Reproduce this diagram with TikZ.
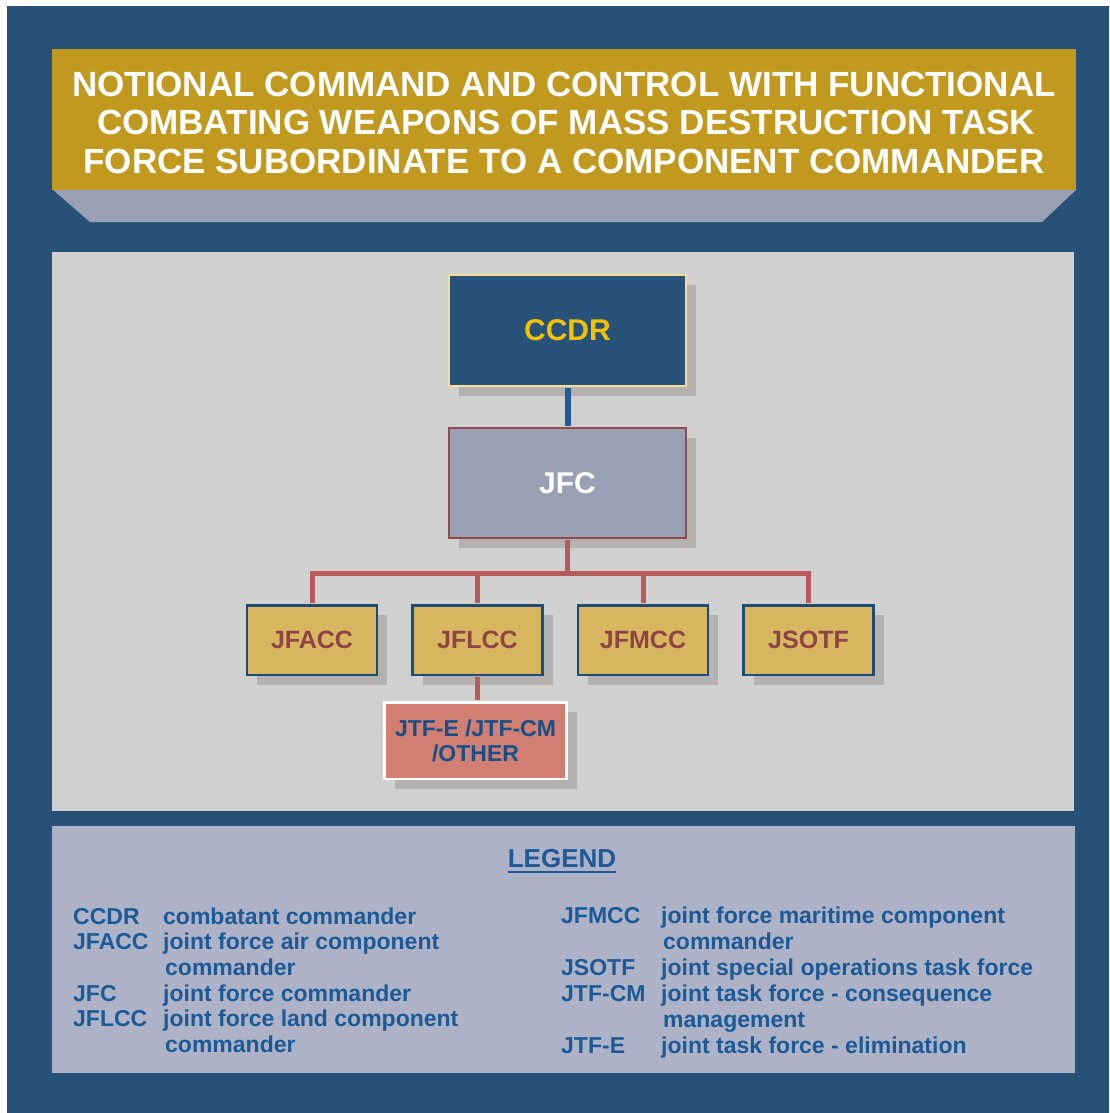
\documentclass[tikz,border=0pt]{standalone}
\usepackage{fontspec}
\setmainfont{Liberation Sans}
\definecolor{outerblue}{HTML}{285177}
\definecolor{gold}{HTML}{C1991F}
\definecolor{slate}{HTML}{98A0B3}
\definecolor{panelgrey}{HTML}{D0D0D0}
\definecolor{legendbg}{HTML}{ADB2C7}
\definecolor{ccdrfill}{HTML}{28527A}
\definecolor{ccdrborder}{HTML}{F8DC98}
\definecolor{ccdrtext}{HTML}{F2C200}
\definecolor{shadowc}{HTML}{B3B2B0}
\definecolor{jfcborder}{HTML}{944848}
\definecolor{redline}{HTML}{B85A5A}
\definecolor{blueline}{HTML}{1F5A96}
\definecolor{smallfill}{HTML}{D8B660}
\definecolor{smallborder}{HTML}{1E4C78}
\definecolor{smalltext}{HTML}{8E4444}
\definecolor{jtffill}{HTML}{D07F72}
\definecolor{jtftext}{HTML}{174F88}
\definecolor{legtext}{HTML}{1B5A96}
\tikzset{
  shbox/.style={draw, inner sep=0pt, align=center,
    preaction={fill=shadowc, transform canvas={shift={(10pt,-10pt)}}}},
  topbox/.style={shbox, line width=2pt, fill=ccdrfill, draw=ccdrborder, text=ccdrtext,
    minimum width=237pt, minimum height=111pt, font=\bfseries\fontsize{30}{33}\selectfont},
  jfcbox/.style={shbox, line width=2.5pt, fill=slate, draw=jfcborder, text=white,
    minimum width=237pt, minimum height=110pt, font=\bfseries\fontsize{30}{33}\selectfont},
  compbox/.style={shbox, line width=2.5pt, fill=smallfill, draw=smallborder, text=smalltext,
    minimum width=130pt, minimum height=69.5pt, font=\bfseries\fontsize{25}{28}\selectfont},
  jtfbox/.style={shbox, line width=2.5pt, fill=jtffill, draw=white, text=jtftext,
    minimum width=182pt, minimum height=76.5pt, font=\bfseries\fontsize{23}{25}\selectfont},
  redconn/.style={draw=redline, line width=5pt, shorten <=1pt, shorten >=1pt},
  blueconn/.style={draw=blueline, line width=6pt, shorten <=1pt, shorten >=1pt},
  titletext/.style={anchor=base, text=white, inner sep=0pt, font=\bfseries\fontsize{35}{38}\selectfont},
  legtxt/.style={anchor=base west, text=legtext, inner sep=0pt, font=\bfseries\fontsize{23}{26}\selectfont},
}
\begin{document}
\begin{tikzpicture}[x=1pt,y=-1pt]
\useasboundingbox (0,0) rectangle (1109,1113);
\fill[white] (0,0) rectangle (1109,1113);
\fill[outerblue] (7,6) rectangle (1109,1113);
% title banner
\fill[slate] (52,189) -- (1077,189) -- (1042,222) -- (90,222) -- cycle;
\fill[gold] (52,49) rectangle (1076,190);
\node[titletext] (t1) at (564,97) {NOTIONAL COMMAND AND CONTROL WITH FUNCTIONAL};
\node[titletext] (t2) at (566,135) {COMBATING WEAPONS OF MASS DESTRUCTION TASK};
\node[titletext] (t3) at (564,173) {FORCE SUBORDINATE TO A COMPONENT COMMANDER};
% panels
\fill[panelgrey] (52,252) rectangle (1074,811);
\fill[legendbg] (52,826) rectangle (1075,1073);
% boxes
\node[topbox] (ccdr) at (567.5,330.5) {CCDR};
\node[jfcbox] (jfc) at (567.5,483) {JFC};
\node[compbox] (jfacc) at (312,640) {JFACC};
\node[compbox] (jflcc) at (477.5,640) {JFLCC};
\node[compbox] (jfmcc) at (643,640) {JFMCC};
\node[compbox] (jsotf) at (808.5,640) {JSOTF};
\node[jtfbox] (jtf) at (475.5,740.5) {JTF-E /JTF-CM\\/OTHER};
% connectors
\coordinate (bus) at (567.5,573);
\draw[blueconn] (ccdr.south) -- (jfc.north);
\draw[redconn] (jfc.south) -- (bus);
\draw[redconn, line join=miter] (jfacc.north) -- (jfacc.north |- bus) -- (jsotf.north |- bus) -- (jsotf.north);
\draw[redconn] (jflcc.north) -- (jflcc.north |- bus);
\draw[redconn] (jfmcc.north) -- (jfmcc.north |- bus);
\draw[redconn] (jflcc.south) -- (jflcc.south |- jtf.north);
% legend
\node[legtxt, anchor=base, font=\bfseries\fontsize{26}{28}\selectfont] (leg) at (562,867) {LEGEND};
\draw[legtext, line width=2.2pt] ([yshift=-5pt]leg.base west) -- ([yshift=-5pt]leg.base east);
\node[legtxt] (a1) at (73,924) {CCDR};
\node[legtxt] (d1) at (163,924) {combatant commander};
\node[legtxt] (a2) at (73,949.5) {JFACC};
\node[legtxt] (d2) at (163,949.5) {joint force air component};
\node[legtxt] (d2b) at (165,975) {commander};
\node[legtxt] (a3) at (73,1001) {JFC};
\node[legtxt] (d3) at (163,1001) {joint force commander};
\node[legtxt] (a4) at (73,1026.5) {JFLCC};
\node[legtxt] (d4) at (163,1026.5) {joint force land component};
\node[legtxt] (d4b) at (165,1052) {commander};
\node[legtxt] (a5) at (561,923.5) {JFMCC};
\node[legtxt] (d5) at (661,923.5) {joint force maritime component};
\node[legtxt] (d5b) at (663,949.5) {commander};
\node[legtxt] (a6) at (561,975.5) {JSOTF};
\node[legtxt] (d6) at (661,975.5) {joint special operations task force};
\node[legtxt] (a7) at (561,1001.5) {JTF-CM};
\node[legtxt] (d7) at (661,1001.5) {joint task force - consequence};
\node[legtxt] (d7b) at (663,1027) {management};
\node[legtxt] (a8) at (561,1053.5) {JTF-E};
\node[legtxt] (d8) at (661,1053.5) {joint task force - elimination};
\end{tikzpicture}
\end{document}
